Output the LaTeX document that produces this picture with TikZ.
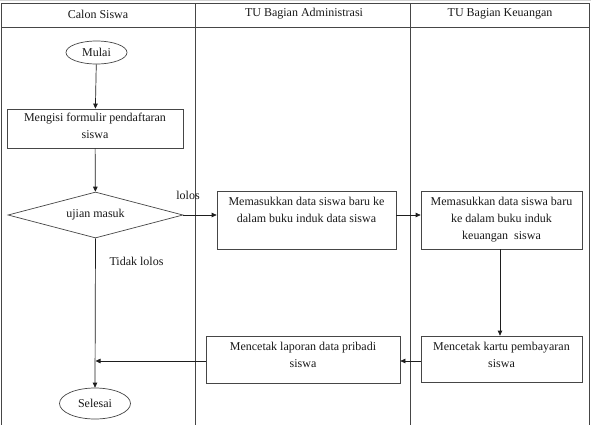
\documentclass[tikz,border=0pt]{standalone}
\usepackage{fontspec}
\setmainfont{Liberation Serif}
\usetikzlibrary{shapes.geometric,arrows.meta}
\definecolor{framecol}{RGB}{70,70,70}
\definecolor{linecol}{RGB}{30,30,30}
\newcommand{\boxtxt}[3]{\parbox[c][#2][t]{#1}{\centering #3}}
\begin{document}
\begin{tikzpicture}[x=1pt,y=-1pt,
  every node/.style={font=\fontsize{12}{17}\selectfont, text=black!90},
  lane/.style={draw=framecol, line width=0.8pt},
  procbox/.style={draw=framecol, line width=0.7pt, rectangle, inner xsep=3pt, inner ysep=6pt},
  term/.style={draw=framecol, line width=0.7pt, ellipse, inner sep=0pt},
  decide/.style={draw=framecol, line width=0.7pt, diamond, aspect=3.8, inner sep=0pt},
  lbl/.style={inner sep=0pt},
  flow/.style={draw=linecol, line width=0.7pt, -{Triangle[length=5pt,width=4.5pt]}},
  plain/.style={draw=linecol, line width=0.7pt}]
\useasboundingbox (0,0) rectangle (591,424);
\fill[white] (0,0) rectangle (591,424);
% frame and lanes
\draw[gray!35, line width=0.8pt] (0,0.8) -- (591,0.8);
\draw[lane] (1,430) -- (1,3.5) -- (589,3.5) -- (589,430);
\draw[lane] (1,27) -- (589,27);
\draw[lane] (195,3.5) -- (195,430);
\draw[lane] (410,3.5) -- (410,430);
% headers
\node[lbl] (h1) at (98,14) {Calon Siswa};
\node[lbl] (h2) at (304,14) {TU Bagian Administrasi};
\node[lbl] (h3) at (500,14) {TU Bagian Keuangan};
% nodes
\node[term, minimum width=61pt, minimum height=23pt] (start) at (96.5,52.5) {Mulai};
\node[procbox, inner ysep=4pt, minimum width=176pt, minimum height=39pt] (b1) at (95,128.5)
  {\boxtxt{170pt}{31pt}{Mengisi formulir pendaftaran\\siswa}};
\node[decide, minimum width=175pt, minimum height=46pt] (d) at (95.5,215) {ujian masuk};
\node[procbox, minimum width=179pt, minimum height=58pt] (b2) at (306.5,220)
  {\boxtxt{173pt}{46pt}{Memasukkan data siswa baru ke\\dalam buku induk data siswa}};
\node[procbox, minimum width=161pt, minimum height=58pt] (b3) at (501.5,220)
  {\boxtxt{155pt}{46pt}{Memasukkan data siswa baru\\ke dalam buku induk\\keuangan\ \ siswa}};
\node[procbox, minimum width=161pt, minimum height=46pt] (b4) at (501.5,359)
  {\boxtxt{155pt}{34pt}{Mencetak kartu pembayaran\\siswa}};
\node[procbox, minimum width=194pt, minimum height=47pt] (b5) at (303,359.5)
  {\boxtxt{188pt}{35pt}{Mencetak laporan data pribadi\\siswa}};
\node[term, minimum width=71pt, minimum height=31pt] (end) at (95,403.5) {Selesai};
% labels
\node[lbl] (lolos) at (188,195) {lolos};
\node[lbl] (tidak) at (136.5,261) {Tidak lolos};
% connectors
\coordinate (j) at (d.south |- b4.west);
\draw[flow] (start) -- (b1);
\draw[flow] (b1) -- (d);
\draw[flow] (d.east) -- (b2.west |- d.east);
\draw[flow] (b2.east |- d.east) -- (b3.west |- d.east);
\draw[flow] (b3.south -| 500,0) -- (b4.north -| 500,0);
\draw[flow] (b4.west |- 0,361) -- (b5.east |- 0,361);
\draw[flow] (b5.west |- 0,361) -- (j |- 0,361);
\draw[flow] (d.south) -- (end.north);
\end{tikzpicture}
\end{document}
